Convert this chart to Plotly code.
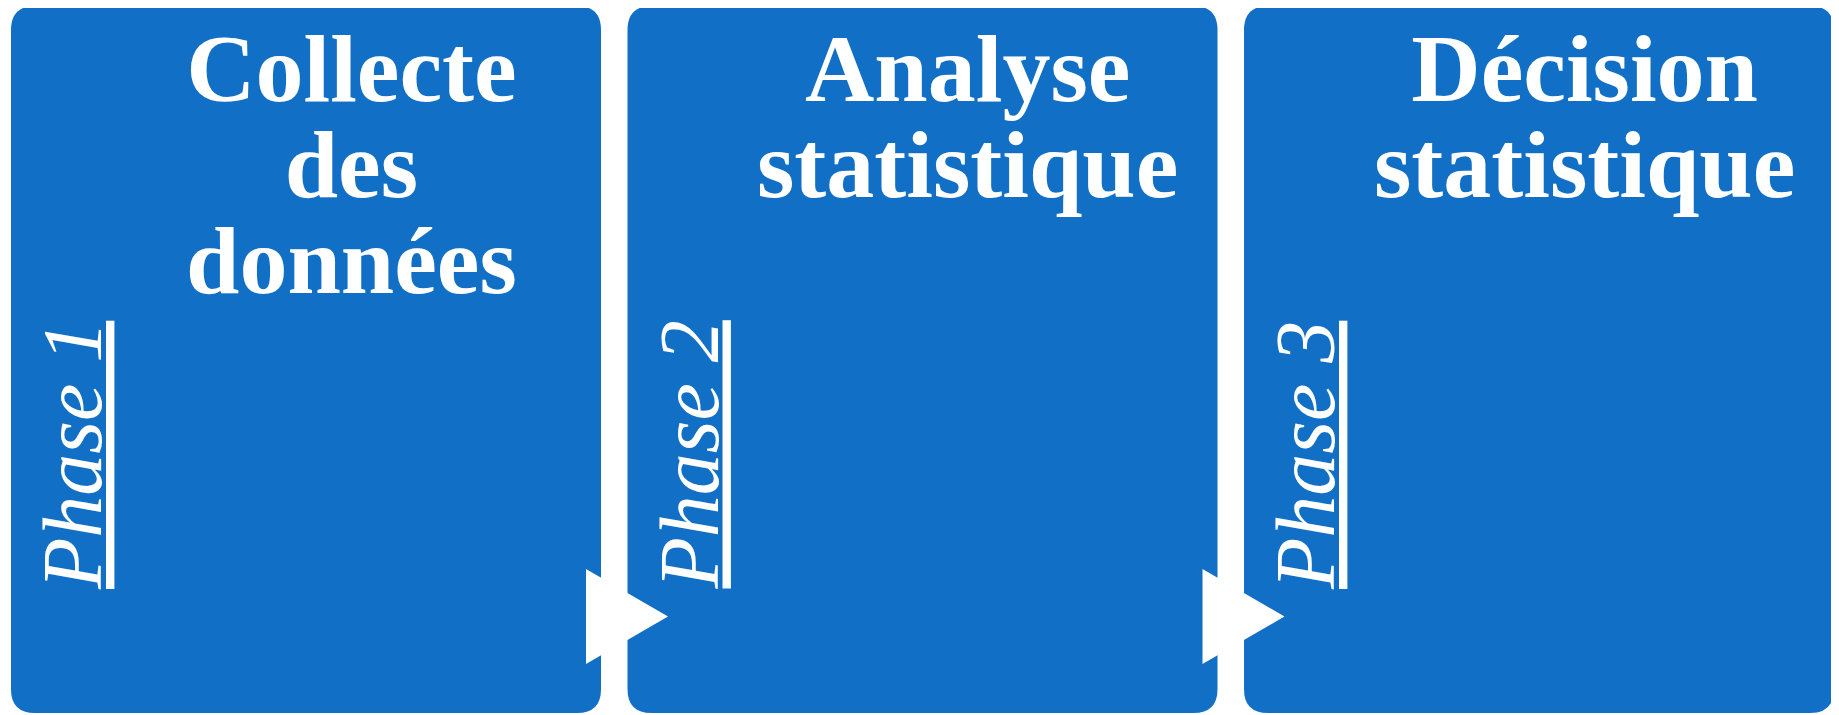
import plotly.graph_objects as go

# ---- content ----
phase_labels = ["Phase 1", "Phase 2", "Phase 3"]
title_lines = [
    ["Collecte", "des", "données"],
    ["Analyse", "statistique"],
    ["Décision", "statistique"],
]

W, H = 1839, 715
OFF = 8  # default page body margin
BOX_COLOR = "#116FC6"
TITLE_FONT = "Liberation Serif"

box_left0 = 11
box_step = 616.5
box_w = 590
box_top, box_bot = 6, 713
rad = 24
title_size = 96
line_gap = 96
phase_size = 84

fig = go.Figure()
shapes = []
annotations = []


def rounded_rect(x0, y0, x1, y1, r):
    return (f"M {x0+r},{y0} L {x1-r},{y0} Q {x1},{y0} {x1},{y0+r} "
            f"L {x1},{y1-r} Q {x1},{y1} {x1-r},{y1} L {x0+r},{y1} "
            f"Q {x0},{y1} {x0},{y1-r} L {x0},{y0+r} Q {x0},{y0} {x0+r},{y0} Z")


for i, (ph, lines) in enumerate(zip(phase_labels, title_lines)):
    x0 = box_left0 + i * box_step
    x1 = x0 + box_w
    shapes.append(dict(type="path", path=rounded_rect(x0, box_top, x1, box_bot, rad),
                       fillcolor=BOX_COLOR, line=dict(width=0), layer="below"))
    cx = (x0 + x1) / 2 + 45
    txt = "<br>".join(f"<span style='font-size:{title_size}px'><b>{t}</b></span>" for t in lines)
    annotations.append(dict(
        x=cx, y=13, xref="x", yref="y",
        text=txt, showarrow=False, xanchor="center", yanchor="top", align="center",
        font=dict(family=TITLE_FONT, size=line_gap / 1.3, color="white")))
    annotations.append(dict(
        x=x0 + 110, y=592, xref="x", yref="y",
        text=f"<i><u>{ph}</u></i>", showarrow=False, textangle=-90,
        xanchor="right", yanchor="bottom",
        font=dict(family=TITLE_FONT, size=phase_size, color="white")))

# arrows between boxes
for i in range(len(phase_labels) - 1):
    ax = box_left0 + i * box_step + 575
    shapes.append(dict(type="path",
                       path=f"M {ax},{569} L {ax},{664} L {ax+82},{616.5} Z",
                       fillcolor="white", line=dict(width=0), layer="above"))

fig.update_layout(
    width=W - OFF, height=H - OFF,
    margin=dict(l=0, r=0, t=0, b=0),
    paper_bgcolor="white", plot_bgcolor="white",
    xaxis=dict(range=[OFF, W], visible=False, fixedrange=True),
    yaxis=dict(range=[H, OFF], visible=False, fixedrange=True),
    shapes=shapes, annotations=annotations, showlegend=False,
)
fig.write_html("out.html")
